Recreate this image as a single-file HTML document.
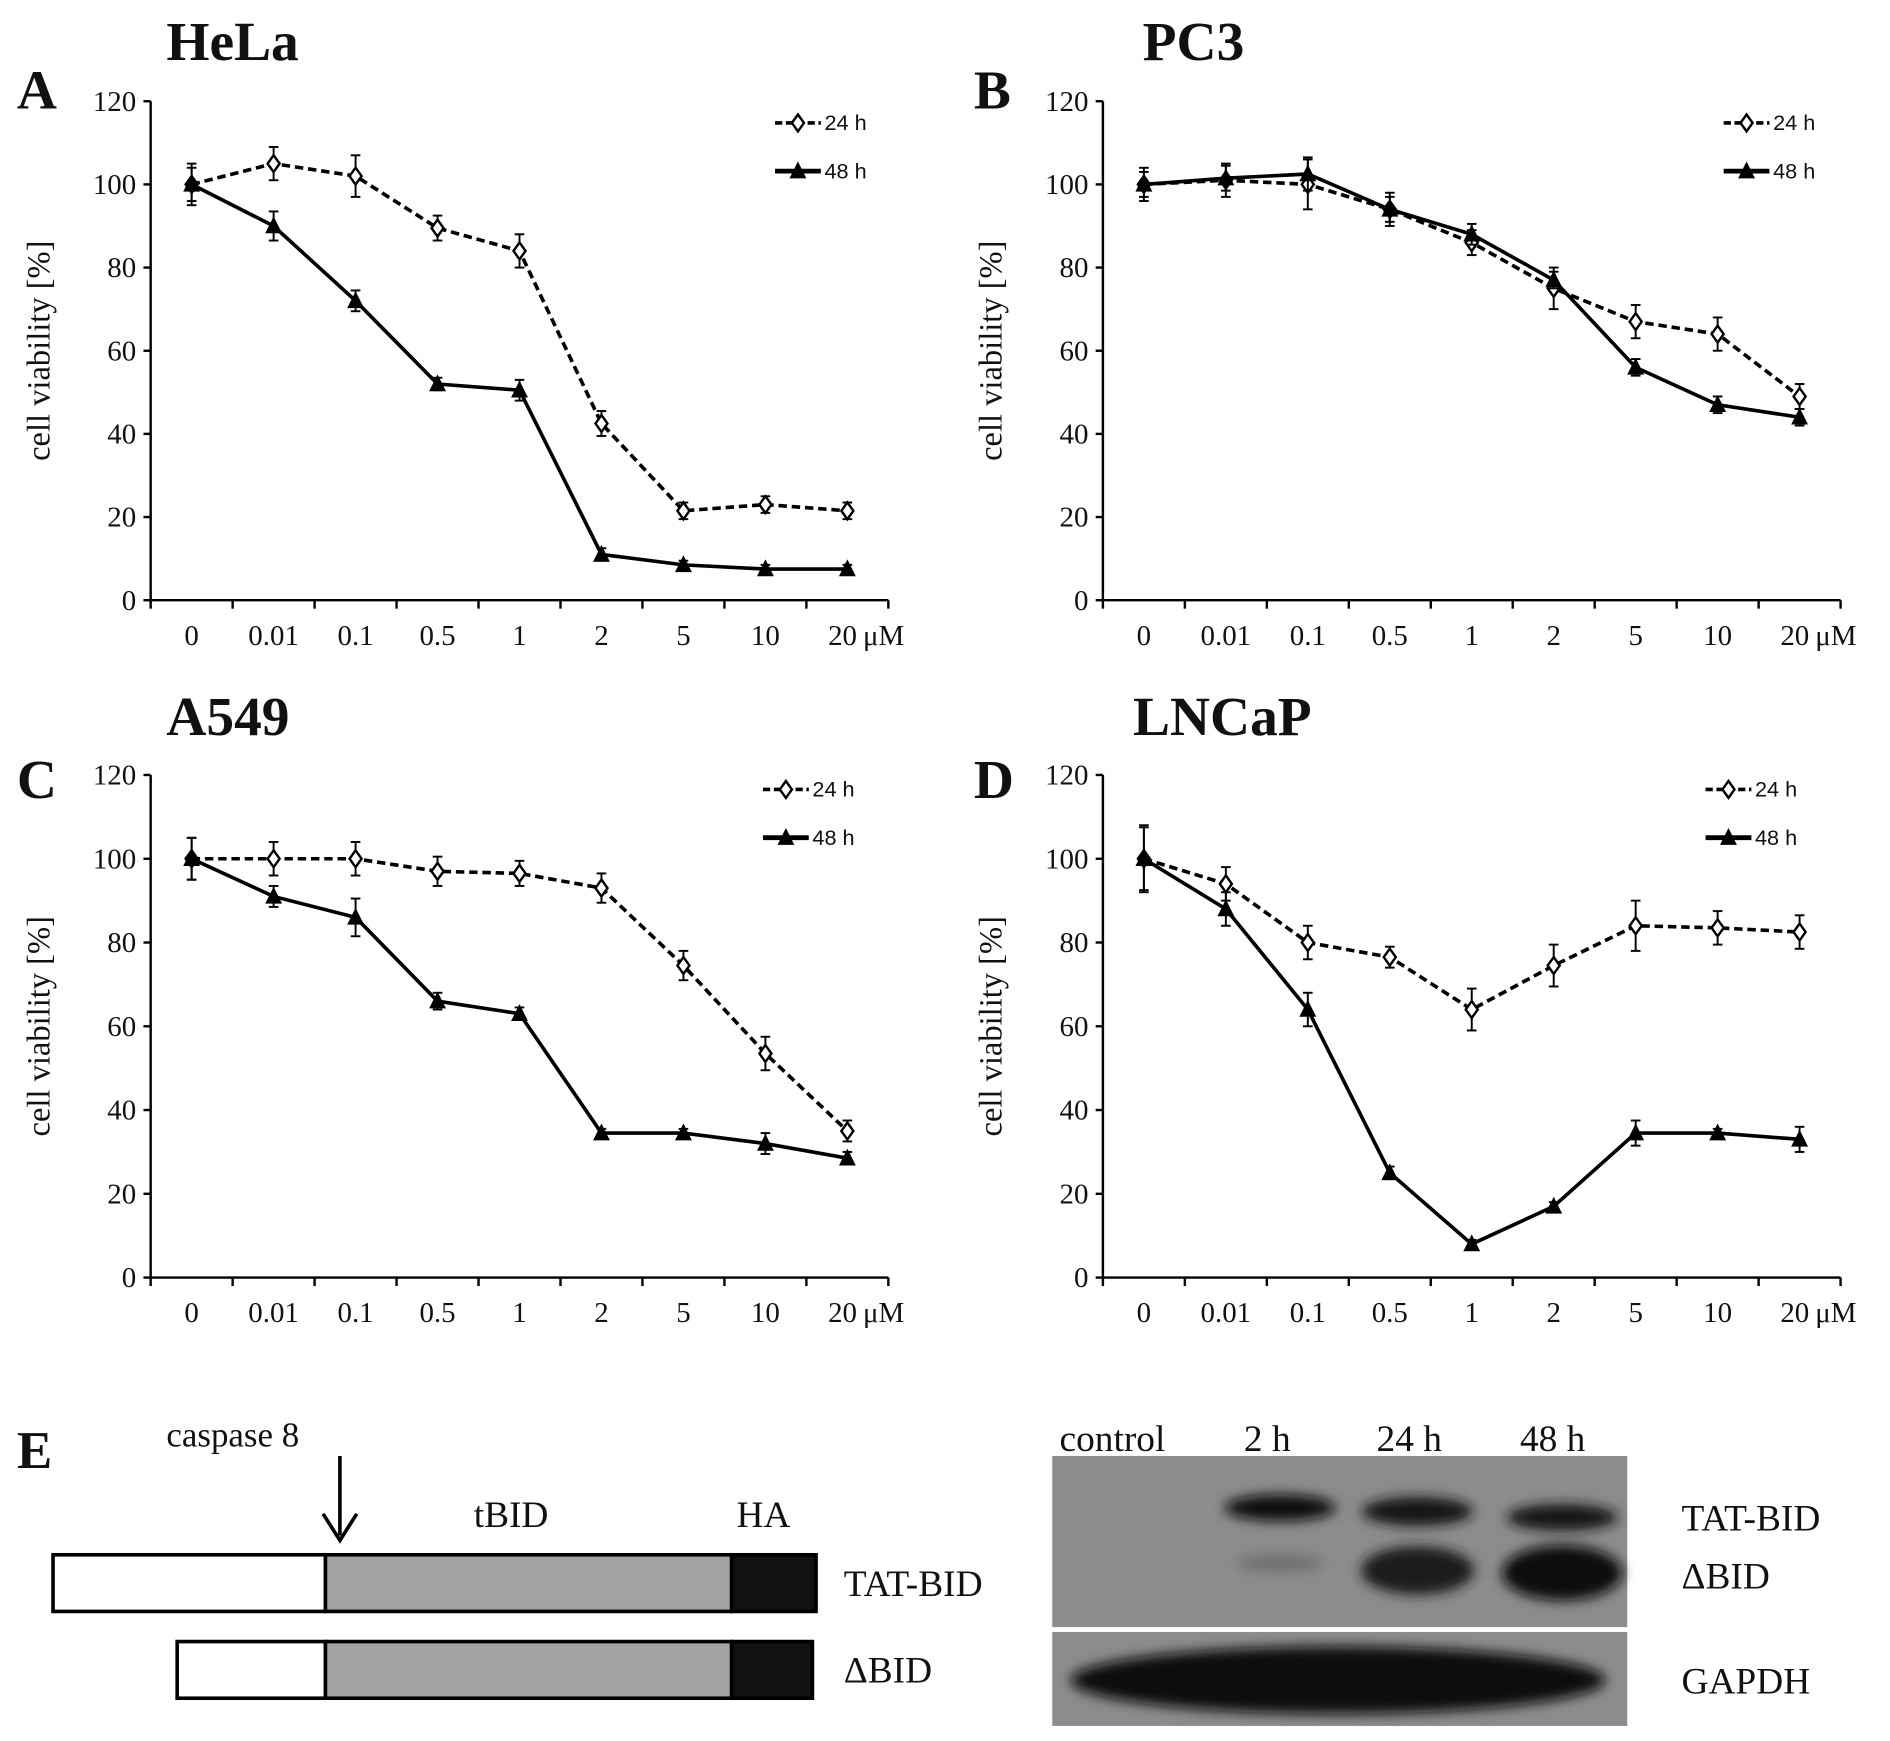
<!DOCTYPE html>
<html><head><meta charset="utf-8"><style>
html,body{margin:0;padding:0;background:#fff;}
svg{display:block;}
text{font-family:"Liberation Serif",serif;fill:#111;}
.lg{font-family:"Liberation Sans",sans-serif;}
</style></head><body>
<svg id="fig" width="1890" height="1741" viewBox="0 0 1568 1444.5" preserveAspectRatio="none" xmlns="http://www.w3.org/2000/svg">
<defs>
<filter id="blur" x="-20%" y="-50%" width="140%" height="200%"><feGaussianBlur stdDeviation="5"/></filter>
</defs>
<g id="charts"></g>
<g>
<text x="14" y="1218" font-size="44" font-weight="bold">E</text>
<text x="138" y="1200" font-size="29">caspase 8</text>
<line x1="282" y1="1208" x2="282" y2="1274" stroke="#000" stroke-width="3"/>
<path d="M268 1256 L282 1278 L296 1256" fill="none" stroke="#000" stroke-width="3"/>
<text x="393" y="1267" font-size="31">tBID</text>
<text x="611" y="1267" font-size="31">HA</text>
<g>
<rect x="44" y="1290" width="226" height="47" fill="#fff" stroke="#000" stroke-width="3"/>
<rect x="270" y="1290" width="337" height="47" fill="#a3a3a3" stroke="#000" stroke-width="3"/>
<rect x="607" y="1290" width="70" height="47" fill="#111" stroke="#000" stroke-width="3"/>
</g>
<g>
<rect x="147" y="1362" width="123" height="47" fill="#fff" stroke="#000" stroke-width="3"/>
<rect x="270" y="1362" width="337" height="47" fill="#a3a3a3" stroke="#000" stroke-width="3"/>
<rect x="607" y="1362" width="67" height="47" fill="#111" stroke="#000" stroke-width="3"/>
</g>
<text x="700" y="1324" font-size="31">TAT-BID</text>
<text x="700" y="1396" font-size="31">ΔBID</text>
</g>
<g>
<text x="879" y="1204" font-size="31">control</text>
<text x="1032" y="1204" font-size="31">2 h</text>
<text x="1142" y="1204" font-size="31">24 h</text>
<text x="1261" y="1204" font-size="31">48 h</text>
<rect x="873" y="1208" width="477" height="142" fill="#8c8c8c"/>
<rect x="873" y="1354" width="477" height="78" fill="#8c8c8c"/>
<g filter="url(#blur)">
<ellipse cx="1062" cy="1251" rx="46" ry="11" fill="#111"/>
<ellipse cx="1176" cy="1254" rx="46" ry="12" fill="#151515"/>
<ellipse cx="1296" cy="1259" rx="46" ry="11" fill="#151515"/>
<ellipse cx="1062" cy="1297" rx="36" ry="7" fill="#6e6e6e"/>
<ellipse cx="1176" cy="1303" rx="47" ry="20" fill="#1a1a1a"/>
<ellipse cx="1296" cy="1305" rx="50" ry="23" fill="#0c0c0c"/>
<ellipse cx="1110" cy="1394" rx="222" ry="28" fill="#0a0a0a"/>
</g>
<text x="1395" y="1270" font-size="31">TAT-BID</text>
<text x="1395" y="1318" font-size="31">ΔBID</text>
<text x="1395" y="1405" font-size="31">GAPDH</text>
</g>
</svg>
<script>
const categories = ["0","0.01","0.1","0.5","1","2","5","10","20"];
const yTicks = [0,20,40,60,80,100,120];
const helaH24 = [100,105,102,89.5,84,42.5,21.5,23,21.5];
const helaH48 = [100,90,72,52,50.5,11,8.5,7.5,7.5];
const helaErr24 = [4,4,5,3,4,3,2,2,2];
const helaErr48 = [5,3.5,2.5,1.5,2.5,1.5,1,1,1];
const pc3H24 = [100,101,100,94,86,75,67,64,49];
const pc3H48 = [100,101.5,102.5,94,88,77,56,47,44];
const pc3Err24 = [4,4,6,4,3,5,4,4,3];
const pc3Err48 = [3,3,4,3,2.5,2,2,2,2];
const a549H24 = [100,100,100,97,96.5,93,74.5,53.5,35];
const a549H48 = [100,91,86,66,63,34.5,34.5,32,28.5];
const a549Err24 = [5,4,4,3.5,3,3.5,3.5,4,2.5];
const a549Err48 = [5,2.5,4.5,2,1.5,1,1,2.5,1.5];
const lncapH24 = [100,94,80,76.5,64,74.5,84,83.5,82.5];
const lncapH48 = [100,88,64,25,8,17,34.5,34.5,33];
const lncapErr24 = [7.5,4,4,2.5,5,5,6,4,4];
const lncapErr48 = [8,4,4,1.5,1,1,3,1,3];

const panels = [
 {id:"a", letter:"A", title:"HeLa", ox:125, y0:498, y120:84, s24:helaH24, s48:helaH48, e24:helaErr24, e48:helaErr48, titleX:138, titleY:50, letX:14, letY:90, legX:643, legY:102},
 {id:"b", letter:"B", title:"PC3", ox:915, y0:498, y120:84, s24:pc3H24, s48:pc3H48, e24:pc3Err24, e48:pc3Err48, titleX:948, titleY:50, letX:808, letY:90, legX:1430, legY:102},
 {id:"c", letter:"C", title:"A549", ox:125, y0:1060, y120:643, s24:a549H24, s48:a549H48, e24:a549Err24, e48:a549Err48, titleX:138, titleY:610, letX:14, letY:662, legX:633, legY:655},
 {id:"d", letter:"D", title:"LNCaP", ox:915, y0:1060, y120:643, s24:lncapH24, s48:lncapH48, e24:lncapErr24, e48:lncapErr48, titleX:940, titleY:610, letX:808, letY:662, legX:1415, legY:655}
];
const NS = "http://www.w3.org/2000/svg";
const root = document.getElementById("charts");
function mk(tag, attrs, parent){const e=document.createElementNS(NS,tag);for(const k in attrs)e.setAttribute(k,attrs[k]);(parent||root).appendChild(e);return e;}
const STEP = 68;
function diamond(g,x,y){mk("path",{d:`M${x} ${y-7} L${x+5} ${y} L${x} ${y+7} L${x-5} ${y} Z`,fill:"#fff",stroke:"#000","stroke-width":2},g);}
function tri(g,x,y){mk("path",{d:`M${x} ${y-8} L${x+7} ${y+6} L${x-7} ${y+6} Z`,fill:"#000"},g);}

panels.forEach(p=>{
  const g = mk("g",{});
  
  
  const xS = i => p.ox + STEP*(i+0.5);
  const yS = v => p.y0 - (v/120)*(p.y0-p.y120);
  const t = mk("text",{x:p.titleX,y:p.titleY,"font-size":46,"font-weight":"bold"},g); t.textContent=p.title;
  
  
  const l = mk("text",{x:p.letX,y:p.letY,"font-size":46,"font-weight":"bold"},g); l.textContent=p.letter;
  
  
  const axEnd = p.ox + STEP*categories.length;
  mk("line",{x1:p.ox,y1:p.y120,x2:p.ox,y2:p.y0,stroke:"#000","stroke-width":2},g);
  mk("line",{x1:p.ox,y1:p.y0,x2:axEnd,y2:p.y0,stroke:"#000","stroke-width":2},g);
  yTicks.forEach(v=>{
    mk("line",{x1:p.ox-6,y1:yS(v),x2:p.ox,y2:yS(v),stroke:"#000","stroke-width":2},g);
    const tt = mk("text",{x:p.ox-12,y:yS(v)+8,"font-size":24,"text-anchor":"end"},g); tt.textContent=v;
    
    
  });
  for(let i=0;i<=categories.length;i++) mk("line",{x1:p.ox+STEP*i,y1:p.y0,x2:p.ox+STEP*i,y2:p.y0+7,stroke:"#000","stroke-width":2},g);
  categories.forEach((c,i)=>{
    const tt = mk("text",{x:xS(i)-(i==8?4:0),y:p.y0+37,"font-size":24,"text-anchor":"middle"},g); tt.textContent=c;
    
    
  });
  const um = mk("text",{x:xS(8)+13,y:p.y0+37,"font-size":24},g); um.textContent="μM";
  
  
  const yl = mk("text",{x:0,y:0,"font-size":27,"text-anchor":"middle",transform:`translate(${p.ox-84},${(p.y0+p.y120)/2}) rotate(-90)`},g);
  yl.textContent="cell viability [%]";
  
  
  [[p.s24,p.e24,"24"],[p.s48,p.e48,"48"]].forEach(([s,e,h])=>{
    const sg = mk("g",{},g);
    
    
    s.forEach((v,i)=>{
      const x=xS(i), y1=yS(v+e[i]), y2=yS(v-e[i]);
      mk("line",{x1:x,y1:y1,x2:x,y2:y2,stroke:"#000","stroke-width":1.6},sg);
      mk("line",{x1:x-4,y1:y1,x2:x+4,y2:y1,stroke:"#000","stroke-width":1.6},sg);
      mk("line",{x1:x-4,y1:y2,x2:x+4,y2:y2,stroke:"#000","stroke-width":1.6},sg);
    });
    const pts = s.map((v,i)=>xS(i)+","+yS(v)).join(" ");
    const pl = mk("polyline",{points:pts,fill:"none",stroke:"#000","stroke-width":3,"stroke-dasharray":h=="24"?"7,4":"none"},sg);
    
    
    s.forEach((v,i)=>{ if(h=="24") diamond(sg,xS(i),yS(v)); else tri(sg,xS(i),yS(v)); });
  });
  const lg = mk("g",{},g);
  
  
  mk("line",{x1:p.legX,y1:p.legY,x2:p.legX+38,y2:p.legY,stroke:"#000","stroke-width":3,"stroke-dasharray":"6,3"},lg);
  diamond(lg,p.legX+19,p.legY);
  const t1 = mk("text",{x:p.legX+41,y:p.legY+6,"font-size":18,class:"lg"},lg); t1.textContent="24 h";
  
  
  mk("line",{x1:p.legX,y1:p.legY+40,x2:p.legX+38,y2:p.legY+40,stroke:"#000","stroke-width":4},lg);
  tri(lg,p.legX+19,p.legY+40);
  const t2 = mk("text",{x:p.legX+41,y:p.legY+46,"font-size":18,class:"lg"},lg); t2.textContent="48 h";
  
  
});
</script>
</body></html>
